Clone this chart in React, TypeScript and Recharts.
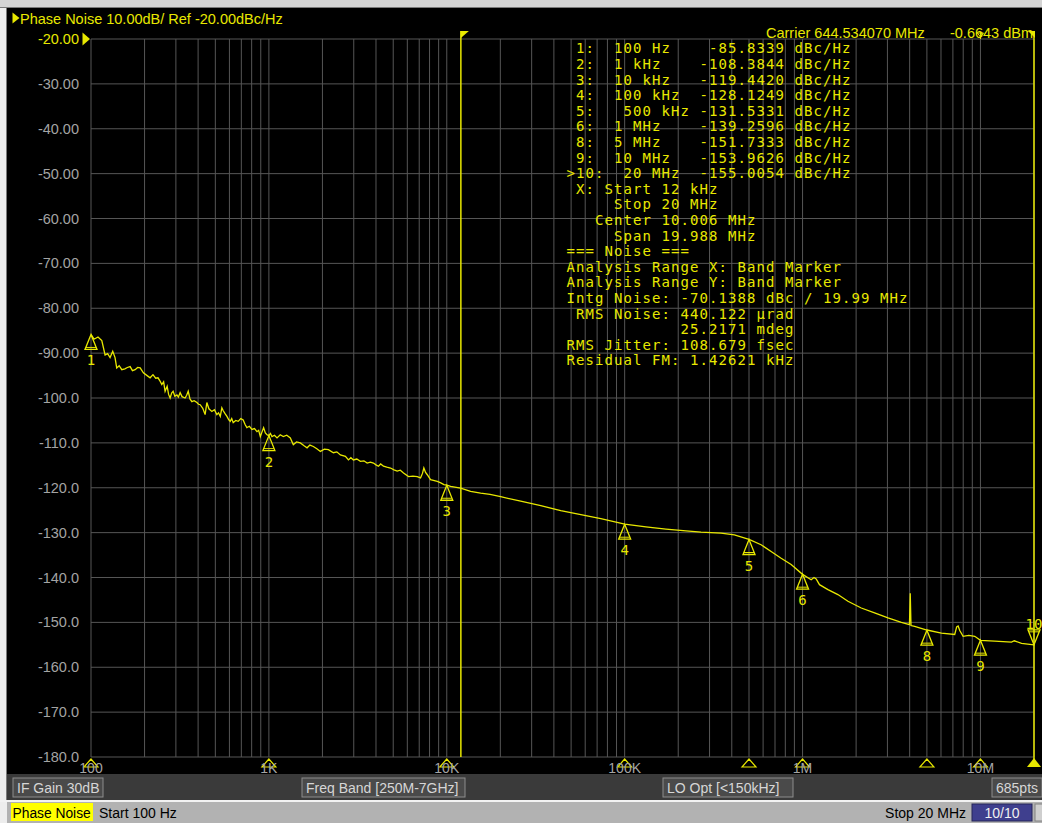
import React from 'react';
import { ComposedChart, Line, XAxis, YAxis, CartesianGrid, ReferenceLine, ReferenceDot } from 'recharts';

// ---- trace data (offset frequency in Hz, phase noise in dBc/Hz) ----
const freqHz = [
  100, 104, 109.5, 115, 120, 124, 128, 132.5, 136.5, 139.5, 144, 149, 155, 160, 166, 171, 177, 183, 189, 197,
  205, 215, 223, 231, 238, 245, 250, 256, 261, 268, 273, 278.5, 284, 289.5, 296, 304, 310, 317, 325, 338,
  345, 352, 360, 369, 380, 394, 402, 411, 425, 438, 448, 460, 478, 494, 510, 521, 533, 544, 553, 567,
  581, 594, 606, 618, 630, 651, 672, 695, 717, 735, 752, 777, 803, 830, 857, 876, 895, 914, 934, 955,
  976, 1000, 1020, 1041, 1075, 1111, 1158, 1205, 1260, 1320, 1372, 1430, 1502, 1570, 1639, 1700, 1778, 1860, 1947, 2050,
  2160, 2305, 2410, 2523, 2693, 2800, 2890, 2987, 3120, 3270, 3420, 3568, 3720, 3870, 4000, 4130, 4250, 4408, 4600, 4828,
  5050, 5264, 5480, 5712, 6096, 6450, 6823, 7122, 7300, 7432, 7600, 7771, 8105, 8844, 9250, 9632, 10000, 10505, 11960, 13615,
  15500, 17500, 20090, 26030, 33750, 43730, 56680, 73450, 100000, 131600, 170600, 221100, 268600, 348100, 413700, 500000, 584600, 665600, 757800, 862700,
  1000000, 1118000, 1160000, 1193000, 1245000, 1389000, 1580000, 1799000, 2138000, 2540000, 3022000, 3592000, 3990000, 4030000, 4070000, 4267000, 5000000, 6033000, 7167000, 7350000,
  7490000, 7650000, 7991000, 8600000, 9289000, 10000000, 12040000, 14940000, 15500000, 17020000, 20000000,
];
const noiseDb = [
  -85.8, -86.9, -86.4, -87.2, -90.4, -90.1, -91.0, -89.6, -91.0, -93.3, -92.8, -93.7, -93.5, -93.2, -93.0, -93.9, -93.7, -93.2, -93.3, -94.4,
  -94.9, -95.5, -94.8, -95.6, -95.5, -96.3, -97.0, -96.4, -98.5, -97.4, -99.2, -100.0, -98.9, -98.5, -99.6, -99.3, -99.8, -98.8, -99.7, -100.0,
  -99.4, -98.5, -100.2, -100.8, -100.6, -101.0, -101.4, -101.5, -102.3, -103.7, -101.0, -102.4, -103.0, -102.6, -103.7, -103.3, -104.1, -102.2, -102.8, -103.5,
  -104.1, -104.8, -105.2, -104.6, -105.5, -105.0, -105.2, -104.6, -104.9, -105.9, -106.6, -106.3, -107.0, -106.8, -107.5, -107.2, -108.6, -107.6, -106.6, -107.8,
  -108.2, -108.4, -107.9, -108.6, -108.3, -108.9, -108.2, -108.6, -108.3, -108.9, -110.4, -109.8, -110.0, -110.6, -111.1, -110.5, -110.8, -111.3, -111.9, -111.4,
  -111.5, -112.2, -112.0, -112.7, -113.0, -113.8, -113.3, -113.8, -113.6, -114.1, -114.0, -114.5, -114.3, -114.5, -114.9, -115.2, -114.7, -115.2, -115.4, -115.6,
  -116.0, -116.3, -116.1, -116.7, -117.5, -117.4, -117.5, -117.8, -116.8, -115.6, -116.6, -117.1, -118.2, -118.6, -118.9, -119.3, -119.4, -119.7, -120.1, -120.8,
  -121.2, -121.5, -122.0, -123.0, -124.0, -125.1, -126.0, -126.9, -128.1, -128.7, -129.2, -129.6, -129.9, -130.1, -130.5, -131.5, -132.7, -134.2, -135.7, -137.1,
  -139.3, -140.5, -140.0, -140.3, -141.6, -142.7, -143.8, -145.3, -146.8, -147.9, -149.0, -150.0, -150.5, -143.5, -150.7, -150.9, -151.7, -152.4, -152.7, -151.0,
  -150.8, -151.8, -153.1, -152.9, -153.1, -154.0, -154.2, -154.4, -154.1, -154.7, -155.0,
];

// ---- markers ----
const markerFreqs = [100, 1000, 10000, 100000, 500000, 1000000, 5000000, 10000000, 20000000];
const markerDb = [-85.8339, -108.3844, -119.442, -128.1249, -131.5331, -139.2596, -151.7333, -153.9626, -155.0054];
const markerIds = ['1', '2', '3', '4', '5', '6', '8', '9', '10'];

// ---- band marker ----
const bandStartHz = 12000;
const bandStopHz = 20000000;

// ---- axes ----
const yTicks = [-20, -30, -40, -50, -60, -70, -80, -90, -100, -110, -120, -130, -140, -150, -160, -170, -180];
const decadeHz = [100, 1000, 10000, 100000, 1000000, 10000000];
const decadeLabels = ['100', '1K', '10K', '100K', '1M', '10M'];
const mantissas = [1, 2, 3, 4, 5, 6, 7, 8, 9];
const gridHz: number[] = [];
decadeHz.forEach((d) => mantissas.forEach((m) => { if (d * m <= 20000000) gridHz.push(d * m); }));

const tableLines = [
  ' 1:  100 Hz    -85.8339 dBc/Hz',
  ' 2:  1 kHz    -108.3844 dBc/Hz',
  ' 3:  10 kHz   -119.4420 dBc/Hz',
  ' 4:  100 kHz  -128.1249 dBc/Hz',
  ' 5:   500 kHz -131.5331 dBc/Hz',
  ' 6:  1 MHz    -139.2596 dBc/Hz',
  ' 8:  5 MHz    -151.7333 dBc/Hz',
  ' 9:  10 MHz   -153.9626 dBc/Hz',
  '>10:  20 MHz  -155.0054 dBc/Hz',
  ' X: Start 12 kHz',
  '     Stop 20 MHz',
  '   Center 10.006 MHz',
  '     Span 19.988 MHz',
  '=== Noise ===',
  'Analysis Range X: Band Marker',
  'Analysis Range Y: Band Marker',
  'Intg Noise: -70.1388 dBc / 19.99 MHz',
  ' RMS Noise: 440.122 µrad',
  '            25.2171 mdeg',
  'RMS Jitter: 108.679 fsec',
  'Residual FM: 1.42621 kHz',
];

const data = freqHz.map((f, i) => ({ f, db: noiseDb[i] }));

const YEL = '#e8e800';
const TXT = '#a4a4a4';
const SANS = '"Liberation Sans", Arial, sans-serif';
const MONO = '"DejaVu Sans Mono", monospace';

const YTick = (props: any) => {
  const { y, payload } = props;
  const v = payload.value as number;
  const label = v > -100 ? v.toFixed(2) : v.toFixed(1);
  const isRef = v === -20;
  return (
    <g>
      <text x={79} y={y} dy={5} textAnchor="end" fill={isRef ? YEL : TXT} fontSize={14.5} fontFamily={SANS}>{label}</text>
      {isRef && <polygon points={`82.5,${y - 6.5} 90,${y} 82.5,${y + 6.5}`} fill={YEL} />}
    </g>
  );
};

const XTick = (props: any) => {
  const { x, payload } = props;
  const idx = decadeHz.indexOf(payload.value);
  if (idx < 0) return <g />;
  return (
    <text x={x} y={773} textAnchor="middle" fill={TXT} fontSize={14} fontFamily={SANS}>{decadeLabels[idx]}</text>
  );
};

const MarkerUp = ({ cx, cy, id }: any) => (
  <g>
    <polygon points={`${cx},${cy} ${cx - 6},${cy + 15} ${cx + 6},${cy + 15}`} fill="none" stroke={YEL} strokeWidth={1.3} />
    <line x1={cx - 5} y1={cy + 13} x2={cx + 5} y2={cy + 13} stroke={YEL} strokeWidth={1} />
    <text x={cx} y={cy + 31} textAnchor="middle" fill={YEL} fontSize={14} fontFamily={MONO}>{id}</text>
  </g>
);

const MarkerDown = ({ cx, cy, id }: any) => (
  <g>
    <polygon points={`${cx},${cy} ${cx - 6},${cy - 15} ${cx + 6},${cy - 15}`} fill="none" stroke={YEL} strokeWidth={1.3} />
    <line x1={cx - 5} y1={cy - 13} x2={cx + 5} y2={cy - 13} stroke={YEL} strokeWidth={1} />
    <text x={cx} y={cy - 16} textAnchor="middle" fill={YEL} fontSize={14} fontFamily={MONO}>{id}</text>
  </g>
);

const AxisTri = ({ cx, cy, filled }: any) => (
  filled ? (
    <g>
      <line x1={cx} y1={cy} x2={cx} y2={cy + 10} stroke={YEL} strokeWidth={1.5} />
      <polygon points={`${cx},${cy + 1} ${cx - 7},${cy + 10} ${cx + 7},${cy + 10}`} fill={YEL} />
    </g>
  ) : (
    <polygon points={`${cx},${cy + 2} ${cx - 7},${cy + 10} ${cx + 7},${cy + 10}`} fill="none" stroke={YEL} strokeWidth={1.2} />
  )
);

const Button = ({ x, w, label }: any) => (
  <g>
    <rect x={x} y={778} width={w} height={19} fill="#4a4a4a" stroke="#8c8c8c" strokeWidth={1} />
    <text x={x + 4} y={793} fill="#d6d6d6" fontSize={14} fontFamily={SANS}>{label}</text>
  </g>
);

export default function App() {
  return (
    <div style={{ position: 'absolute', left: 0, top: 0, width: 1042, height: 823, overflow: 'hidden', background: '#ededed' }}>
      {/* frame */}
      <div style={{ position: 'absolute', left: 0, top: 0, width: 1042, height: 7, background: '#d4d4d4', borderBottom: '1px solid #7a7a7a' }} />
      <div style={{ position: 'absolute', left: 6, top: 7, width: 1, height: 795, background: '#7a7a7a' }} />
      <div style={{ position: 'absolute', left: 7, top: 8, width: 1035, height: 766, background: '#000' }} />
      <div style={{ position: 'absolute', left: 0, top: 0 }}>
        <ComposedChart width={1042} height={823} data={data} margin={{ top: 39, right: 8, bottom: 46, left: 0 }}>
          <CartesianGrid stroke="#565656" strokeWidth={1} />
          <XAxis dataKey="f" type="number" scale="log" domain={[100, 20000000]} ticks={gridHz} interval={0}
            tick={(p: any) => <XTick {...p} />} tickLine={false} axisLine={false} height={20} allowDataOverflow />
          <YAxis type="number" domain={[-180, -20]} ticks={yTicks} interval={0} width={91}
            tick={(p: any) => <YTick {...p} />} tickLine={false} axisLine={false} allowDataOverflow />
          <ReferenceLine x={bandStartHz} stroke={YEL} strokeWidth={1.5} ifOverflow="visible" />
          <ReferenceLine x={bandStopHz} stroke={YEL} strokeWidth={1.5} ifOverflow="visible" />
          <Line dataKey="db" type="linear" stroke={YEL} strokeWidth={1.3} dot={false} isAnimationActive={false} />
          <ReferenceDot x={bandStartHz} y={-20} ifOverflow="visible" shape={(p: any) => (
            <g>
              <line x1={p.cx} y1={p.cy - 8} x2={p.cx} y2={p.cy} stroke={YEL} strokeWidth={1.5} />
              <polygon points={`${p.cx},${p.cy - 8} ${p.cx + 8},${p.cy - 8} ${p.cx},${p.cy - 1}`} fill={YEL} />
            </g>
          )} />
          <ReferenceDot x={bandStopHz} y={-20} ifOverflow="visible" shape={(p: any) => (
            <g>
              <line x1={p.cx} y1={p.cy - 8} x2={p.cx} y2={p.cy} stroke={YEL} strokeWidth={1.5} />
              <polygon points={`${p.cx - 6},${p.cy - 8} ${p.cx + 1},${p.cy - 8} ${p.cx + 1},${p.cy - 1}`} fill={YEL} />
            </g>
          )} />
          <ReferenceDot x={markerFreqs[7]} y={-20} ifOverflow="visible" shape={(p: any) => (
            <g>
              <line x1={p.cx} y1={p.cy - 7} x2={p.cx} y2={p.cy} stroke={YEL} strokeWidth={1} />
              <polygon points={`${p.cx - 3},${p.cy - 6} ${p.cx + 3},${p.cy - 6} ${p.cx},${p.cy - 2}`} fill="none" stroke={YEL} strokeWidth={1} />
            </g>
          )} />
          {markerFreqs.map((f, i) => (
            <ReferenceDot key={'m' + i} x={f} y={markerDb[i]} ifOverflow="visible"
              shape={(p: any) => (i === markerFreqs.length - 1
                ? <MarkerDown cx={p.cx} cy={p.cy} id={markerIds[i]} />
                : <MarkerUp cx={p.cx} cy={p.cy} id={markerIds[i]} />)} />
          ))}
          {markerFreqs.map((f, i) => (
            <ReferenceDot key={'a' + i} x={f} y={-180} ifOverflow="visible"
              shape={(p: any) => <AxisTri cx={p.cx} cy={p.cy} filled={i === markerFreqs.length - 1} />} />
          ))}
        </ComposedChart>
      </div>
      {/* overlay texts and bars */}
      <svg width={1042} height={823} style={{ position: 'absolute', left: 0, top: 0, pointerEvents: 'none' }}>
        <polygon points="12.5,12.5 19.5,18 12.5,23.5" fill={YEL} />
        <text x={20} y={24} fill={YEL} fontSize={14.5} fontFamily={SANS}>Phase Noise 10.00dB/ Ref -20.00dBc/Hz</text>
        <text x={766} y={38} fill={YEL} fontSize={14.5} fontFamily={SANS}>Carrier 644.534070 MHz</text>
        <text x={1033} y={38} textAnchor="end" fill={YEL} fontSize={14.5} fontFamily={SANS}>-0.6643 dBm</text>
        {tableLines.map((t, i) => (
          <text key={i} x={566.5} y={53.3 + 15.6 * i} fill={YEL} fontSize={14} letterSpacing={1.07}
            fontFamily={MONO} style={{ whiteSpace: 'pre' }}>{t}</text>
        ))}
        {/* control bar */}
        <rect x={7} y={774} width={1035} height={27} fill="#3a3a3a" />
        <Button x={13} w={90} label="IF Gain 30dB" />
        <Button x={302} w={163} label="Freq Band [250M-7GHz]" />
        <Button x={663} w={130} label="LO Opt [<150kHz]" />
        <Button x={992} w={50} label="685pts" />
        {/* status bar */}
        <rect x={0} y={800} width={1042} height={2} fill="#f2f2f2" />
        <rect x={7} y={802} width={1035} height={21} fill="#b2b2b2" />
        <rect x={11} y={803} width={82} height={18} fill="#ffff00" />
        <text x={12.5} y={818} fill="#000" fontSize={13.8} fontFamily={SANS}>Phase Noise</text>
        <text x={99} y={818} fill="#000" fontSize={14} fontFamily={SANS}>Start 100 Hz</text>
        <text x={966} y={818} textAnchor="end" fill="#000" fontSize={14} fontFamily={SANS}>Stop 20 MHz</text>
        <rect x={972} y={804} width={60} height={17} fill="#3f3f8e" stroke="#26265a" strokeWidth={1} />
        <text x={1002} y={818} textAnchor="middle" fill="#f0f0f0" fontSize={14} fontFamily={SANS}>10/10</text>
        <rect x={1035} y={804} width={8} height={17} fill="#cfcfcf" stroke="#808080" strokeWidth={1} />
      </svg>
    </div>
  );
}
